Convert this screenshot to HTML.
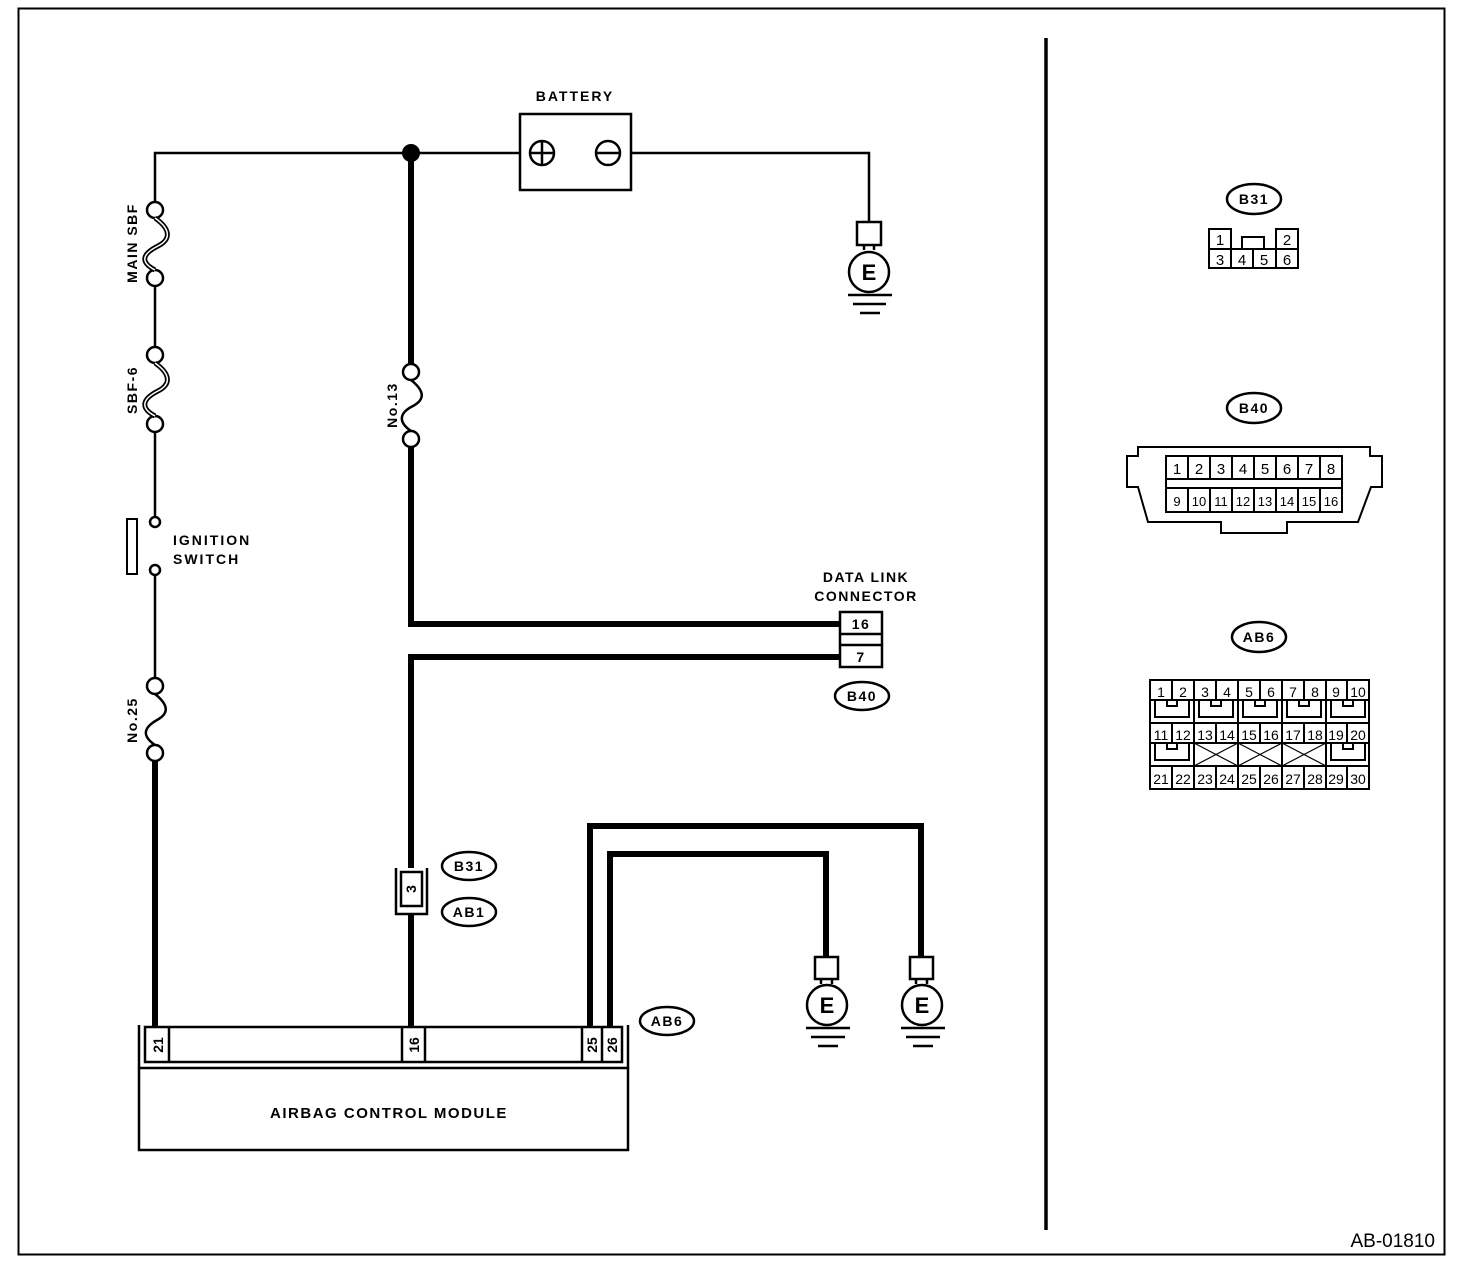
<!DOCTYPE html>
<html><head><meta charset="utf-8"><style>
html,body{margin:0;padding:0;background:#fff}
svg{display:block}
text{font-family:"Liberation Sans",Arial,sans-serif;font-weight:bold;fill:#000;letter-spacing:1.5px}
.n text,text.n{letter-spacing:0}
</style></head><body>
<svg width="1472" height="1270" viewBox="0 0 1472 1270" xmlns="http://www.w3.org/2000/svg">
<rect x="18.5" y="8.5" width="1426" height="1246" fill="none" stroke="#000" stroke-width="2"/>
<line x1="1046" y1="38" x2="1046" y2="1230" stroke="#000" stroke-width="3.5"/>
<text class="n" x="1435" y="1247" font-size="19" style="font-weight:normal" text-anchor="end">AB-01810</text>

<g fill="none" stroke="#000" stroke-width="2.5">
<polyline points="155,202 155,153 520,153"/>
<polyline points="631,153 869,153 869,222"/>
<rect x="520" y="114" width="111" height="76"/>
<circle cx="542" cy="153" r="12"/><line x1="542" y1="141" x2="542" y2="165"/><line x1="530" y1="153" x2="554" y2="153"/>
<circle cx="608" cy="153" r="12"/><line x1="596" y1="153" x2="620" y2="153"/>
<circle cx="155" cy="210" r="8"/><circle cx="155" cy="278" r="8"/>
<line x1="155" y1="286" x2="155" y2="347"/>
<circle cx="155" cy="355" r="8"/><circle cx="155" cy="424" r="8"/>
<line x1="155" y1="432" x2="155" y2="517"/>
<circle cx="155" cy="522" r="5"/><circle cx="155" cy="570" r="5"/>
<rect x="127" y="519" width="10" height="55" stroke-width="2"/>
<line x1="155" y1="575" x2="155" y2="678"/>
<circle cx="155" cy="686" r="8"/><circle cx="155" cy="753" r="8"/>
<circle cx="411" cy="372" r="8"/><circle cx="411" cy="439" r="8"/>
</g>
<g fill="none" stroke="#000" stroke-width="5">
<path d="M155,218 C172,230 170,240 158,246 C142,254 140,262 155,270"/>
<path d="M155,363 C172,375 170,385 158,391 C142,399 140,408 155,416"/>
</g>
<g fill="none" stroke="#fff" stroke-width="1.5">
<path d="M155,218 C172,230 170,240 158,246 C142,254 140,262 155,270"/>
<path d="M155,363 C172,375 170,385 158,391 C142,399 140,408 155,416"/>
</g>
<g fill="none" stroke="#000" stroke-width="2.5">
<path d="M155,694 C170,706 168,714 157,720 C143,728 142,736 155,745"/>
<path d="M411,380 C426,392 424,400 413,406 C399,413 398,422 411,431"/>
</g>
<circle cx="411" cy="153" r="9" fill="#000"/>
<g fill="none" stroke="#000" stroke-width="6">
<line x1="155" y1="761" x2="155" y2="1027"/>
<line x1="411" y1="153" x2="411" y2="364"/>
<polyline points="411,447 411,624 840,624"/>
<polyline points="840,657 411,657 411,868"/>
<line x1="411" y1="914" x2="411" y2="1027"/>
<polyline points="590,1027 590,826 921,826 921,957"/>
<polyline points="610,1027 610,854 826,854 826,957"/>
</g>
<g fill="none" stroke="#000" stroke-width="2.5">
<rect x="401" y="872" width="21" height="34" fill="#fff"/>
<polyline points="396,868 396,914 427,914 427,868"/>
</g>
<text class="n" transform="translate(416,889) rotate(-90)" font-size="14" text-anchor="middle">3</text>
<g fill="none" stroke="#000" stroke-width="2.5">
<rect x="840" y="612" width="42" height="55" fill="#fff"/>
<line x1="840" y1="634" x2="882" y2="634"/><line x1="840" y1="645" x2="882" y2="645"/>
</g>
<text x="861" y="629" font-size="14" text-anchor="middle">16</text>
<text x="861" y="662" font-size="14" text-anchor="middle">7</text>
<text x="866" y="582" font-size="14" text-anchor="middle">DATA LINK</text>
<text x="866" y="601" font-size="14" text-anchor="middle">CONNECTOR</text>
<text x="575" y="101" font-size="14" text-anchor="middle" style="letter-spacing:2px">BATTERY</text>
<text x="173" y="545" font-size="14" style="letter-spacing:2px">IGNITION</text>
<text x="173" y="564" font-size="14" style="letter-spacing:2px">SWITCH</text>
<text transform="translate(137,243) rotate(-90)" font-size="14" text-anchor="middle">MAIN SBF</text>
<text transform="translate(137,390) rotate(-90)" font-size="14" text-anchor="middle">SBF-6</text>
<text transform="translate(137,720) rotate(-90)" font-size="14" text-anchor="middle">No.25</text>
<text transform="translate(397,405) rotate(-90)" font-size="14" text-anchor="middle">No.13</text>
<g fill="none" stroke="#000" stroke-width="2.5">
<ellipse cx="862" cy="696" rx="27" ry="14"/>
<ellipse cx="469" cy="866" rx="27" ry="14"/>
<ellipse cx="469" cy="912" rx="27" ry="14"/>
<ellipse cx="667" cy="1021" rx="27" ry="14"/>
<ellipse cx="1254" cy="199" rx="27" ry="15"/>
<ellipse cx="1254" cy="408" rx="27" ry="15"/>
<ellipse cx="1259" cy="637" rx="27" ry="15"/>
</g>
<g font-size="14" text-anchor="middle">
<text x="862" y="701">B40</text><text x="469" y="871">B31</text><text x="469" y="917">AB1</text>
<text x="667" y="1026">AB6</text><text x="1254" y="204">B31</text><text x="1254" y="413">B40</text><text x="1259" y="642">AB6</text>
</g>
<g fill="none" stroke="#000" stroke-width="2.5">
<rect x="857" y="222" width="24" height="23"/><path d="M864,245 v5 M874,245 v5"/><circle cx="869" cy="272" r="20"/>
<line x1="848" y1="295" x2="892" y2="295"/><line x1="853" y1="304" x2="886" y2="304"/><line x1="860" y1="313" x2="880" y2="313"/>
<rect x="815" y="957" width="23" height="22"/><path d="M821,979 v5 M832,979 v5"/><circle cx="827" cy="1005" r="20"/>
<line x1="806" y1="1028" x2="850" y2="1028"/><line x1="811" y1="1037" x2="845" y2="1037"/><line x1="818" y1="1046" x2="838" y2="1046"/>
<rect x="910" y="957" width="23" height="22"/><path d="M916,979 v5 M927,979 v5"/><circle cx="922" cy="1005" r="20"/>
<line x1="901" y1="1028" x2="945" y2="1028"/><line x1="906" y1="1037" x2="940" y2="1037"/><line x1="913" y1="1046" x2="933" y2="1046"/>
</g>
<g class="n" font-size="22" text-anchor="middle"><text x="869" y="280">E</text><text x="827" y="1013">E</text><text x="922" y="1013">E</text></g>
<g fill="none" stroke="#000" stroke-width="2.5">
<rect x="139" y="1068" width="489" height="82"/>
<rect x="145" y="1027" width="477" height="35"/>
<line x1="139" y1="1025" x2="139" y2="1068"/><line x1="628" y1="1025" x2="628" y2="1068"/>
<line x1="169" y1="1027" x2="169" y2="1062"/>
<line x1="402" y1="1027" x2="402" y2="1062"/><line x1="425" y1="1027" x2="425" y2="1062"/>
<line x1="582" y1="1027" x2="582" y2="1062"/><line x1="602" y1="1027" x2="602" y2="1062"/>
</g>
<g class="n" font-size="14" text-anchor="middle">
<text transform="translate(163,1045) rotate(-90)">21</text>
<text transform="translate(419,1045) rotate(-90)">16</text>
<text transform="translate(597,1045) rotate(-90)">25</text>
<text transform="translate(617,1045) rotate(-90)">26</text>
</g>
<text x="389" y="1118" font-size="15" text-anchor="middle">AIRBAG CONTROL MODULE</text>
<g fill="none" stroke="#000" stroke-width="2">
<rect x="1209" y="229" width="22" height="39"/><rect x="1276" y="229" width="22" height="39"/>
<line x1="1209" y1="249" x2="1298" y2="249"/><line x1="1209" y1="268" x2="1298" y2="268"/>
<line x1="1253" y1="249" x2="1253" y2="268"/>
<polyline points="1242,249 1242,237 1264,237 1264,249"/>
</g>
<g class="n" font-size="15" text-anchor="middle" style="font-weight:normal">
<text x="1220" y="245" style="font-weight:normal">1</text><text x="1287" y="245" style="font-weight:normal">2</text>
<text x="1220" y="265" style="font-weight:normal">3</text><text x="1242" y="265" style="font-weight:normal">4</text>
<text x="1264" y="265" style="font-weight:normal">5</text><text x="1287" y="265" style="font-weight:normal">6</text>
</g>
<g fill="none" stroke="#000" stroke-width="2">
<path d="M1138,447 L1370,447 L1370,456 L1382,456 L1382,487 L1371,487 L1358,522 L1287,522 L1287,533 L1221,533 L1221,522 L1148,522 L1138,487 L1127,487 L1127,456 L1138,456 Z"/>
<rect x="1166" y="456" width="176" height="56"/>
<line x1="1166" y1="479" x2="1342" y2="479"/><line x1="1166" y1="488" x2="1342" y2="488"/>
<path d="M1188,456v23M1210,456v23M1232,456v23M1254,456v23M1276,456v23M1298,456v23M1320,456v23"/>
<path d="M1188,488v24M1210,488v24M1232,488v24M1254,488v24M1276,488v24M1298,488v24M1320,488v24"/>
</g>
<g class="n" font-size="15" text-anchor="middle" style="font-weight:normal">
<text x="1177" y="474" style="font-weight:normal">1</text><text x="1199" y="474" style="font-weight:normal">2</text><text x="1221" y="474" style="font-weight:normal">3</text><text x="1243" y="474" style="font-weight:normal">4</text><text x="1265" y="474" style="font-weight:normal">5</text><text x="1287" y="474" style="font-weight:normal">6</text><text x="1309" y="474" style="font-weight:normal">7</text><text x="1331" y="474" style="font-weight:normal">8</text>
<g font-size="13"><text x="1177" y="506" style="font-weight:normal">9</text><text x="1199" y="506" style="font-weight:normal">10</text><text x="1221" y="506" style="font-weight:normal">11</text><text x="1243" y="506" style="font-weight:normal">12</text><text x="1265" y="506" style="font-weight:normal">13</text><text x="1287" y="506" style="font-weight:normal">14</text><text x="1309" y="506" style="font-weight:normal">15</text><text x="1331" y="506" style="font-weight:normal">16</text></g>
</g>
<g fill="none" stroke="#000" stroke-width="2">
<rect x="1150" y="680" width="219" height="109"/>
<line x1="1150" y1="700" x2="1369" y2="700"/><line x1="1150" y1="723" x2="1369" y2="723"/>
<line x1="1150" y1="743" x2="1369" y2="743"/><line x1="1150" y1="766" x2="1369" y2="766"/>
<path d="M1172,680v20M1194,680v20M1216,680v20M1238,680v20M1260,680v20M1282,680v20M1304,680v20M1326,680v20M1347,680v20"/>
<path d="M1172,723v20M1194,723v20M1216,723v20M1238,723v20M1260,723v20M1282,723v20M1304,723v20M1326,723v20M1347,723v20"/>
<path d="M1172,766v23M1194,766v23M1216,766v23M1238,766v23M1260,766v23M1282,766v23M1304,766v23M1326,766v23M1347,766v23"/>
<path d="M1194,700v23M1238,700v23M1282,700v23M1326,700v23"/>
<path d="M1194,743v23M1238,743v23M1282,743v23M1326,743v23"/>
<path d="M1155,700v17h34v-17M1167,700v6h10v-6"/>
<path d="M1199,700v17h34v-17M1211,700v6h10v-6"/>
<path d="M1243,700v17h34v-17M1255,700v6h10v-6"/>
<path d="M1287,700v17h34v-17M1299,700v6h10v-6"/>
<path d="M1331,700v17h34v-17M1343,700v6h10v-6"/>
<path d="M1155,743v17h34v-17M1167,743v6h10v-6"/>
<path d="M1331,743v17h34v-17M1343,743v6h10v-6"/>
<path d="M1194,743L1238,766M1194,766L1238,743M1238,743L1282,766M1238,766L1282,743M1282,743L1326,766M1282,766L1326,743" stroke-width="1.2"/>
</g>
<g class="n" font-size="14" text-anchor="middle" style="font-weight:normal">
<text x="1161" y="697" style="font-weight:normal">1</text><text x="1183" y="697" style="font-weight:normal">2</text><text x="1205" y="697" style="font-weight:normal">3</text><text x="1227" y="697" style="font-weight:normal">4</text><text x="1249" y="697" style="font-weight:normal">5</text><text x="1271" y="697" style="font-weight:normal">6</text><text x="1293" y="697" style="font-weight:normal">7</text><text x="1315" y="697" style="font-weight:normal">8</text><text x="1336" y="697" style="font-weight:normal">9</text><text x="1358" y="697" style="font-weight:normal">10</text>
<text x="1161" y="740" style="font-weight:normal">11</text><text x="1183" y="740" style="font-weight:normal">12</text><text x="1205" y="740" style="font-weight:normal">13</text><text x="1227" y="740" style="font-weight:normal">14</text><text x="1249" y="740" style="font-weight:normal">15</text><text x="1271" y="740" style="font-weight:normal">16</text><text x="1293" y="740" style="font-weight:normal">17</text><text x="1315" y="740" style="font-weight:normal">18</text><text x="1336" y="740" style="font-weight:normal">19</text><text x="1358" y="740" style="font-weight:normal">20</text>
<text x="1161" y="784" style="font-weight:normal">21</text><text x="1183" y="784" style="font-weight:normal">22</text><text x="1205" y="784" style="font-weight:normal">23</text><text x="1227" y="784" style="font-weight:normal">24</text><text x="1249" y="784" style="font-weight:normal">25</text><text x="1271" y="784" style="font-weight:normal">26</text><text x="1293" y="784" style="font-weight:normal">27</text><text x="1315" y="784" style="font-weight:normal">28</text><text x="1336" y="784" style="font-weight:normal">29</text><text x="1358" y="784" style="font-weight:normal">30</text>
</g>
</svg>
</body></html>
